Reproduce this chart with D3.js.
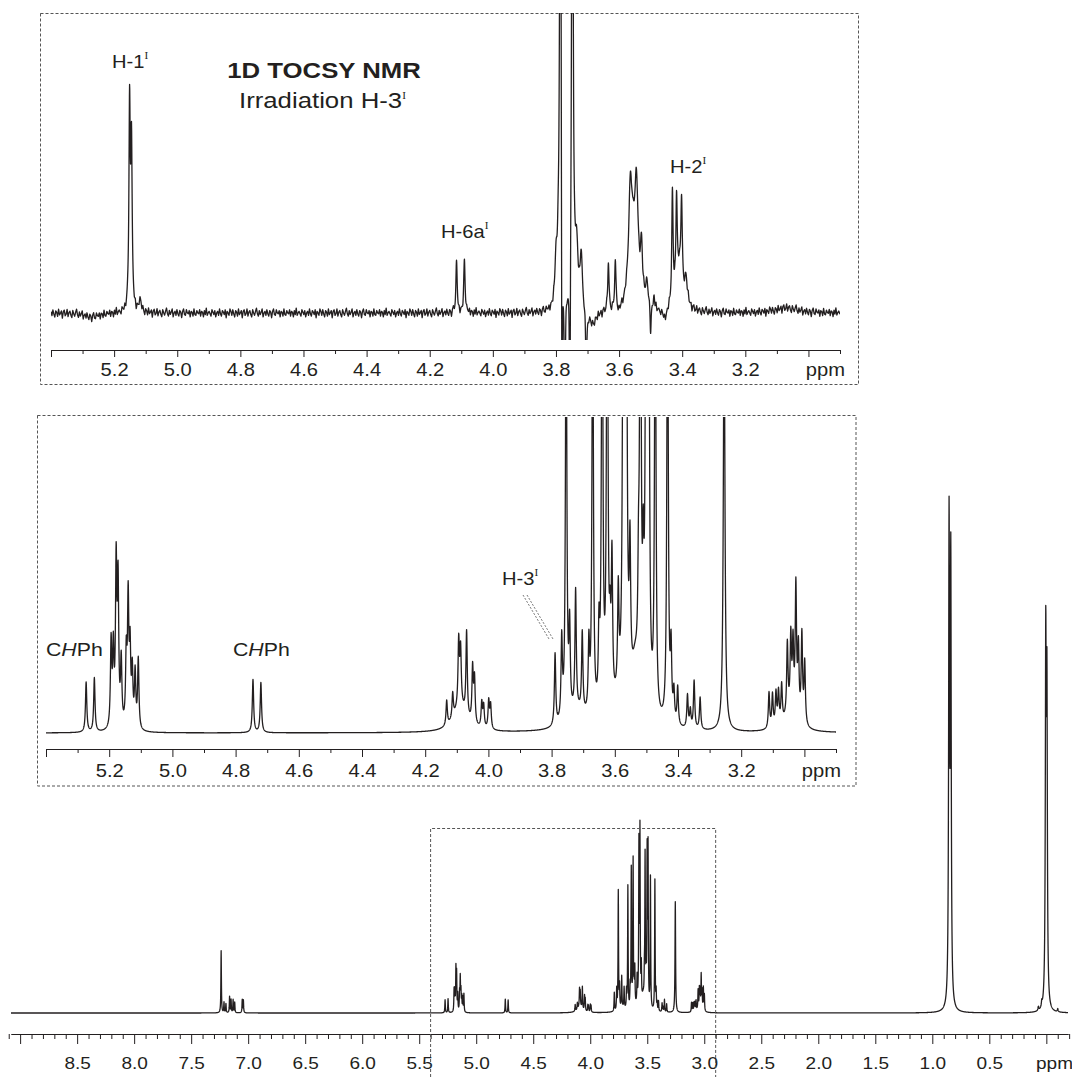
<!DOCTYPE html>
<html>
<head>
<meta charset="utf-8">
<script src="https://d3js.org/d3.v7.min.js"></script>
<style>
  body { margin: 0; background: #fff; }
  text { font-family: "Liberation Sans", Arial, sans-serif; fill: #231f20; }
  .spec { fill: none; stroke: #231f20; stroke-width: 1.3; stroke-linejoin: round; }
  .frame { fill: none; stroke: #555; stroke-width: 1; stroke-dasharray: 3,2; }
  .axis path, .axis line { stroke: #231f20; stroke-width: 1; }
  .axis text { font-size: 18px; }
  .axis.main text { font-size: 17px; }
</style>
</head>
<body>
<script>
// ---- 1D TOCSY trace (irradiation H-3), heights in px above baseline ----
const tocsyShift  = [5.151, 5.145, 5.118, 5.270, 4.115, 4.090,
                     3.800, 3.793, 3.786, 3.781, 3.772, 3.756, 3.748, 3.735, 3.720, 3.704, 3.685,
                     3.634, 3.612, 3.600, 3.564, 3.545, 3.555, 3.529, 3.512, 3.500, 3.490, 3.455,
                     3.431, 3.418, 3.402, 3.410, 3.388, 3.070];
const tocsyHeight = [200, 165, 10, -4, 50, 53,
                     45, 35, 700, -260, -200, -220, 700, 60, 55, -70, -14,
                     48, 48, -5, 105, 105, 35, 50, 22, -30, 12, -10,
                     110, 88, 86, 40, 25, 5];
const tocsyWidth  = [0.0025, 0.0025, 0.006, 0.03, 0.0025, 0.0025,
                     0.004, 0.003, 0.0025, 0.0015, 0.0015, 0.0015, 0.0025, 0.006, 0.004, 0.002, 0.015,
                     0.0025, 0.0025, 0.01, 0.007, 0.007, 0.012, 0.004, 0.005, 0.002, 0.003, 0.01,
                     0.0025, 0.0025, 0.0025, 0.012, 0.006, 0.04];
// baseline noise of the TOCSY trace, read as px
const tocsyNoise = [2,-3,4,-1,-5,3,1,-4,5,-2, 0,3,-6,2,4,-3,-1,5,-4,1, 3,-2,-5,4,0,-3,2,6,-1,-4,
                    3,-2,1,5,-5,0,2,-3,4,-1, -4,3,1,-6,2,5,-2,-3,4,0, -1,3,-5,2,1,-4,5,-2,-3,3,
                    0,-1,4,-4,2,1,-5,3,-2,6, -3,0,2,-1,-4,4,1,-2,3,-5, 0,2,-3,5,-1,-4,3,1,-2,4,
                    -6,2,0,-3,5];

// ---- 1H spectrum, heights in inset px (main trace is 3.85x smaller) ----
const protonShift = [
  7.237, 7.212, 7.195, 7.163, 7.150, 7.132, 7.118, 7.052, 7.042,
  5.273, 5.247, 5.194, 5.187, 5.178, 5.172, 5.162, 5.146, 5.140, 5.134, 5.127, 5.118, 5.108,
  4.745, 4.720,
  4.132, 4.113, 4.094, 4.088, 4.069, 4.050, 4.044, 4.021, 4.015, 3.999, 3.993, 4.090,
  3.789, 3.768, 3.754, 3.743, 3.724, 3.703, 3.682, 3.720,
  3.670, 3.650, 3.640, 3.624, 3.615, 3.609, 3.589, 3.573, 3.564, 3.552, 3.535, 3.525, 3.519, 3.510, 3.501, 3.493, 3.472, 3.570,
  3.433, 3.422, 3.413, 3.401, 3.370, 3.361, 3.349, 3.330,
  3.254,
  3.112, 3.101, 3.090, 3.082, 3.072, 3.054, 3.043, 3.036, 3.027, 3.019, 3.008, 2.999, 3.045,
  0.853, 0.838, 0.070, 0.040, 0.005, -0.005, -0.100];
const protonHeight = [
  239, 40, 35, 62, 50, 50, 40, 50, 48,
  50, 54, 85, 75, 160, 140, 65, 70, 125, 75, 55, 55, 70,
  53, 50,
  25, 25, 65, 55, 85, 55, 45, 25, 22, 28, 24, 25,
  72, 80, 458, 85, 120, 80, 68, 15,
  474, 75, 535, 566, 60, 140, 100, 600, 650, 130, 40, 85, 562, 110, 580, 600, 508, 30,
  504, 70, 30, 38, 33, 18, 48, 32,
  427,
  36, 33, 33, 33, 38, 72, 75, 68, 130, 70, 88, 62, 15,
  1850, 1700, 15, 20, 1370, 1180, 12];
const protonWidth = [
  0.0025, 0.0025, 0.0025, 0.0025, 0.0025, 0.0025, 0.0025, 0.0025, 0.0025,
  0.0025, 0.0025, 0.0025, 0.0025, 0.0025, 0.0025, 0.0025, 0.0025, 0.0025, 0.0025, 0.0025, 0.0025, 0.0025,
  0.0025, 0.0025,
  0.0025, 0.0025, 0.0025, 0.0025, 0.0025, 0.0025, 0.0025, 0.0025, 0.0025, 0.0025, 0.0025, 0.025,
  0.0025, 0.0025, 0.0025, 0.0025, 0.0025, 0.0025, 0.0025, 0.03,
  0.0025, 0.0025, 0.0025, 0.0025, 0.0025, 0.0025, 0.0025, 0.0025, 0.0025, 0.0025, 0.012, 0.0025, 0.0025, 0.0025, 0.0025, 0.0025, 0.0025, 0.035,
  0.0025, 0.0025, 0.0025, 0.0025, 0.0025, 0.0025, 0.0025, 0.0025,
  0.003,
  0.0025, 0.0025, 0.0025, 0.0025, 0.0025, 0.0025, 0.0025, 0.0025, 0.0025, 0.0025, 0.0025, 0.0025, 0.025,
  0.0045, 0.0045, 0.004, 0.004, 0.0045, 0.0045, 0.004];

// ---- tick labels ----
const insetTicks = [5.4, 5.2, 5.0, 4.8, 4.6, 4.4, 4.2, 4.0, 3.8, 3.6, 3.4, 3.2, 3.0];
const insetLabels = ["", "5.2", "5.0", "4.8", "4.6", "4.4", "4.2", "4.0", "3.8", "3.6", "3.4", "3.2", ""];
const mainTicks = [9.0, 8.5, 8.0, 7.5, 7.0, 6.5, 6.0, 5.5, 5.0, 4.5, 4.0, 3.5, 3.0, 2.5, 2.0, 1.5, 1.0, 0.5, 0.0];
const mainLabels = ["", "8.5", "8.0", "7.5", "7.0", "6.5", "6.0", "5.5", "5.0", "4.5", "4.0", "3.5", "3.0", "2.5", "2.0", "1.5", "1.0", "0.5", ""];

const W = 1072, H = 1077, SX = 1.12;

const svg = d3.select("body").append("svg")
  .attr("width", W).attr("height", H);

function lorentz(p, s, h, w) {
  let v = 0;
  for (let i = 0; i < s.length; i++) {
    const d = (p - s[i]) / w[i];
    v += h[i] / (1 + d * d);
  }
  return v;
}

function sample(from, to, step, f) {
  const pts = [], n = Math.round((from - to) / step);
  for (let i = 0; i <= n; i++) {
    const p = from - i * step;
    pts.push([p, f(p)]);
  }
  return pts;
}

function noiseAt(p) {
  const t = (5.4 - p) / 0.003, i = Math.floor(t), f = t - i, n = tocsyNoise.length;
  return 0.8 * (tocsyNoise[i % n] * (1 - f) + tocsyNoise[(i + 1) % n] * f);
}

function clip(id, x0, y0, x1, y1) {
  svg.append("clipPath").attr("id", id).append("rect")
    .attr("x", x0).attr("y", y0).attr("width", x1 - x0).attr("height", y1 - y0);
}

function drawAxis(x, y0, majors, labels, majorLen, minorLen, pad, cls) {
  const [d0, d1] = x.domain();
  const minors = d3.range(Math.round(d1 * 10), Math.round(d0 * 10) + 1)
    .filter(k => k % (cls == "main" ? 5 : 2) != 0).map(k => k / 10);
  svg.append("g").attr("class", "axis " + cls)
    .attr("transform", `translate(0,${y0})`)
    .call(d3.axisBottom(x).tickValues(minors).tickSize(minorLen).tickSizeOuter(0).tickFormat(""));
  const g = svg.append("g").attr("class", "axis " + cls)
    .attr("transform", `translate(0,${y0})`)
    .call(d3.axisBottom(x).tickValues(majors).tickSize(majorLen).tickSizeOuter(0)
      .tickPadding(pad).tickFormat((d, i) => labels[i]));
  g.selectAll(".tick text").attr("transform", `scale(${SX},1)`);
  g.append("text")
    .attr("transform", `translate(${x.range()[1] + 5},${majorLen + pad}) scale(${SX},1)`)
    .attr("dy", "0.71em").attr("text-anchor", "end").text("ppm");
}

// label with optional italic / superscript parts
function label(x, y, parts, size, weight, anchor) {
  const t = svg.append("text")
    .attr("transform", `translate(${x},${y}) scale(${SX},1)`)
    .attr("font-size", size).attr("font-weight", weight || "normal")
    .attr("text-anchor", anchor || "start");
  parts.forEach(p => {
    const s = t.append("tspan").text(p.t);
    if (p.it) s.attr("font-style", "italic");
    if (p.sup) s.attr("font-family", "Liberation Serif, serif").attr("font-size", 10).attr("dy", -9);
  });
}

// ---------- top inset: 1D TOCSY ----------
const topX = d3.scaleLinear().domain([5.4, 2.9]).range([51, 840]);
const topY = d3.scaleLinear().domain([0, 300]).range([313, 13]);
svg.append("rect").attr("class", "frame").attr("x", 40.5).attr("y", 13.5).attr("width", 818).attr("height", 371);
clip("clipTop", 51, 13, 840, 340);
svg.append("path").attr("class", "spec").attr("clip-path", "url(#clipTop)")
  .attr("stroke-width", 1.1)
  .attr("d", d3.line().x(d => topX(d[0])).y(d => topY(d[1]))(
    sample(5.4, 2.9, 0.0005, p => lorentz(p, tocsyShift, tocsyHeight, tocsyWidth) + noiseAt(p))));
drawAxis(topX, 350, insetTicks, insetLabels, 7, 4, 6, "inset");

label(112, 68, [{t: "H-1"}, {t: "I", sup: true}], 18);
label(324, 78, [{t: "1D TOCSY NMR"}], 23, "bold", "middle");
label(239, 108, [{t: "Irradiation H-3"}, {t: "I", sup: true}], 23);
label(441, 238, [{t: "H-6a"}, {t: "I", sup: true}], 18);
label(670, 173, [{t: "H-2"}, {t: "I", sup: true}], 18);

// ---------- middle inset: 1H expansion ----------
const midX = d3.scaleLinear().domain([5.4, 2.9]).range([46, 836]);
const midY = d3.scaleLinear().domain([0, 316]).range([733, 417]);
svg.append("rect").attr("class", "frame").attr("x", 37.5).attr("y", 415.5).attr("width", 818.5).attr("height", 370.5);
clip("clipMid", 46, 417, 836, 745);
svg.append("path").attr("class", "spec").attr("clip-path", "url(#clipMid)")
  .attr("d", d3.line().x(d => midX(d[0])).y(d => midY(d[1]))(
    sample(5.4, 2.9, 0.0005, p => lorentz(p, protonShift, protonHeight, protonWidth))));
drawAxis(midX, 749, insetTicks, insetLabels, 8, 4, 7, "inset");

label(46, 656, [{t: "C"}, {t: "H", it: true}, {t: "Ph"}], 19);
label(233, 656, [{t: "C"}, {t: "H", it: true}, {t: "Ph"}], 19);
label(502, 585, [{t: "H-3"}, {t: "I", sup: true}], 18);
[0, 4].forEach(o => svg.append("line")
  .attr("x1", 523 + o).attr("y1", 595).attr("x2", 549 + o).attr("y2", 639)
  .attr("stroke", "#555").attr("stroke-width", 0.8).attr("stroke-dasharray", "2,1.5"));

// ---------- main 1H spectrum ----------
const mainX = d3.scaleLinear().domain([9.08, -0.19]).range([11, 1068]);
const mainY = d3.scaleLinear().domain([0, 2014]).range([1013, 490]);
svg.append("path").attr("class", "spec")
  .attr("d", d3.line().x(d => mainX(d[0])).y(d => mainY(d[1]))(
    sample(9.08, -0.19, 0.001, p => lorentz(p, protonShift, protonHeight, protonWidth))));
drawAxis(mainX, 1034, mainTicks, mainLabels, 10, 5, 13, "main");

// dashed box marking the expanded region
svg.append("path").attr("class", "frame")
  .attr("d", `M${mainX(5.4)},${H}V828.5H${mainX(2.9)}V${H}`);
</script>
</body>
</html>
